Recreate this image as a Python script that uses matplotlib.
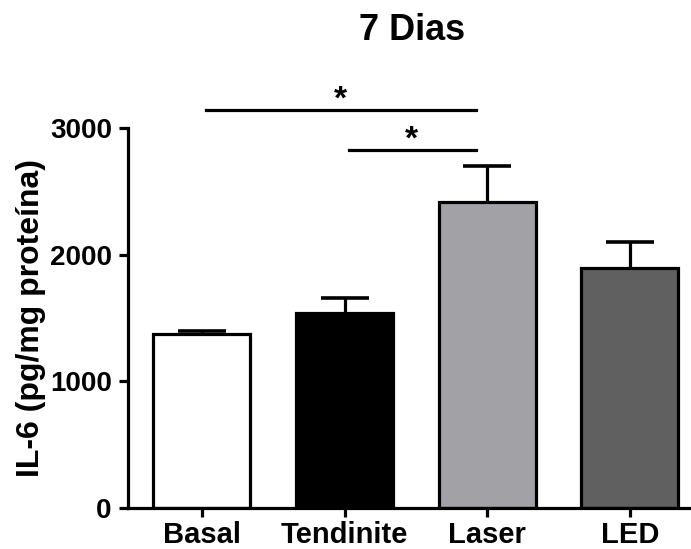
import matplotlib as mpl
import matplotlib.pyplot as plt
import numpy as np

mpl.rcParams['font.family'] = ['Liberation Sans', 'DejaVu Sans']
mpl.rcParams['font.weight'] = 'bold'

# data
groups = ['Basal', 'Tendinite', 'Laser', 'LED']
means = [1370, 1543, 2417, 1898]
errors = [30, 118, 283, 204]
colors = ['white', 'black', '#a2a1a6', '#606060']
comparisons = [(0, 2, 3140), (1, 2, 2830)]

fig = plt.figure(figsize=(6.91, 5.49), dpi=100)
ax = fig.add_axes([0.185, 0.0747, 0.815, 0.6920])

x = np.arange(len(groups))
ax.bar(x, means, width=0.68, color=colors, edgecolor='black', linewidth=2.3, zorder=2)
eb = ax.errorbar(x, means, yerr=[np.zeros(len(means)), errors], fmt='none',
                 ecolor='black', elinewidth=2.3, capsize=17, capthick=2.6, zorder=1)
# only the upper cap, Prism style
eb[1][0].set_visible(False)

# significance bars
for i, j, yv in comparisons:
    ax.plot([x[i] + 0.03, x[j] - 0.08], [yv, yv], color='black', lw=2.3, clip_on=False)
    ax.text((x[i] + x[j]) / 2 - 0.03, yv - 45, '*', ha='center', va='bottom',
            fontsize=24, fontweight='bold')

ax.set_xlim(-0.52, 3.43)
ax.set_ylim(0, 3000)
ax.set_yticks([0, 1000, 2000, 3000])
ax.set_xticks(x)
ax.set_xticklabels(groups)
ax.spines['top'].set_visible(False)
ax.spines['right'].set_visible(False)
ax.spines['left'].set_linewidth(2.3)
ax.spines['bottom'].set_linewidth(2.3)
ax.spines['left'].set_bounds(0, 3000)
ax.tick_params(axis='both', width=2.3, length=6.5)
ax.tick_params(axis='y', labelsize=20, pad=5)
ax.tick_params(axis='x', labelsize=21, pad=3)
for lab in ax.get_xticklabels() + ax.get_yticklabels():
    lab.set_fontweight('bold')

ax.set_ylabel('IL-6 (pg/mg proteína)', fontsize=23, fontweight='bold', labelpad=3)
fig.text(0.597, 0.945, '7 Dias', ha='center', va='center', fontsize=26, fontweight='bold')

fig.savefig('out.png', dpi=100)
